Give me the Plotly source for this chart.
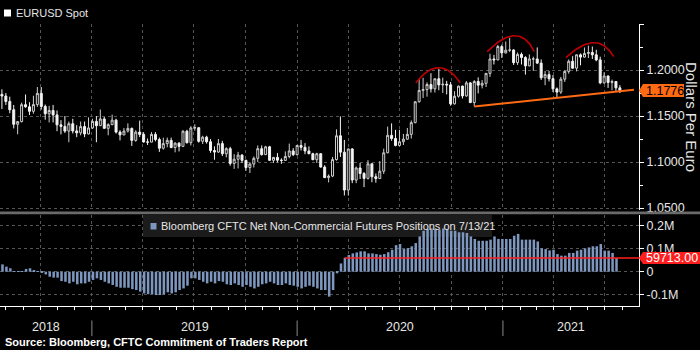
import numpy as np
import pandas as pd
import plotly.graph_objects as go

# ---------------------------------------------------------------------------
# Weekly EURUSD spot candles, week of 16 Jul 2018 through week of 19 Jul 2021
# ---------------------------------------------------------------------------
eur_open = [
    1.1735, 1.1717, 1.1658, 1.1568, 1.1410, 1.1439, 1.1623, 1.1600, 1.1551, 1.1624,
    1.1746, 1.1604, 1.1524, 1.1560, 1.1512, 1.1404, 1.1387, 1.1336, 1.1416, 1.1338,
    1.1317, 1.1385, 1.1305, 1.1370, 1.1441,
    1.1395, 1.1468, 1.1366, 1.1406, 1.1455, 1.1325, 1.1295, 1.1336, 1.1365, 1.1235,
    1.1325, 1.1300, 1.1218, 1.1216, 1.1300, 1.1245, 1.1150, 1.1200, 1.1235, 1.1157,
    1.1205, 1.1170, 1.1335, 1.1210, 1.1370, 1.1373, 1.1225, 1.1270, 1.1220, 1.1125,
    1.1108, 1.1200, 1.1090, 1.1145, 1.0985, 1.1030, 1.1075, 1.1018, 1.0940, 1.0978,
    1.1040, 1.1145, 1.1080, 1.1165, 1.1018, 1.1050, 1.1020, 1.1017, 1.1060, 1.1120,
    1.1080, 1.1180,
    1.1160, 1.1120, 1.1090, 1.1025, 1.1090, 1.0945, 1.0830, 1.0847, 1.1026, 1.1285,
    1.1107, 1.0695, 1.1142, 1.0804, 1.0935, 1.0875, 1.0822, 1.0980, 1.0840, 1.0820,
    1.0900, 1.1100, 1.1290, 1.1255, 1.1180, 1.1220, 1.1248, 1.1300, 1.1428, 1.1655,
    1.1778, 1.1787, 1.1842, 1.1795, 1.1905, 1.1838, 1.1845, 1.1838, 1.1632, 1.1715,
    1.1825, 1.1718, 1.1860, 1.1646, 1.1875, 1.1835, 1.1855, 1.1963, 1.2120, 1.2110,
    1.2255, 1.2185,
    1.2215, 1.2218, 1.2080, 1.2170, 1.2136, 1.2045, 1.2120, 1.2120, 1.2075, 1.1915,
    1.1950, 1.1905, 1.1795, 1.1760, 1.1900, 1.1985, 1.2095, 1.2020, 1.2165, 1.2140,
    1.2180, 1.2190, 1.2165, 1.2110, 1.1860, 1.1935, 1.1865, 1.1875, 1.1806,
]
eur_high = [
    1.1790, 1.1750, 1.1710, 1.1620, 1.1445, 1.1645, 1.1734, 1.1650, 1.1720, 1.1815,
    1.1815, 1.1625, 1.1610, 1.1620, 1.1560, 1.1455, 1.1500, 1.1440, 1.1470, 1.1400,
    1.1440, 1.1440, 1.1485, 1.1470, 1.1500,
    1.1570, 1.1490, 1.1420, 1.1515, 1.1470, 1.1345, 1.1370, 1.1420, 1.1375, 1.1345,
    1.1450, 1.1325, 1.1255, 1.1325, 1.1325, 1.1265, 1.1265, 1.1265, 1.1265, 1.1215,
    1.1215, 1.1345, 1.1350, 1.1390, 1.1410, 1.1375, 1.1285, 1.1285, 1.1250, 1.1170,
    1.1250, 1.1230, 1.1160, 1.1165, 1.1085, 1.1110, 1.1085, 1.1025, 1.0998, 1.1060,
    1.1180, 1.1180, 1.1175, 1.1175, 1.1055, 1.1097, 1.1040, 1.1115, 1.1200, 1.1150,
    1.1185, 1.1240,
    1.1205, 1.1170, 1.1100, 1.1100, 1.1095, 1.0965, 1.0865, 1.1055, 1.1355, 1.1495,
    1.1240, 1.1145, 1.1150, 1.0950, 1.0990, 1.0890, 1.1020, 1.0985, 1.0875, 1.1010,
    1.1145, 1.1385, 1.1420, 1.1350, 1.1350, 1.1305, 1.1370, 1.1452, 1.1660, 1.1905,
    1.1915, 1.1865, 1.1965, 1.1905, 1.2011, 1.1917, 1.1882, 1.1870, 1.1770, 1.1830,
    1.1830, 1.1880, 1.1870, 1.1890, 1.1920, 1.1890, 1.1965, 1.2177, 1.2165, 1.2273,
    1.2275, 1.2310,
    1.2349, 1.2225, 1.2190, 1.2190, 1.2150, 1.2170, 1.2145, 1.2245, 1.2115, 1.1990,
    1.1990, 1.1945, 1.1810, 1.1925, 1.1995, 1.2115, 1.2150, 1.2170, 1.2180, 1.2245,
    1.2265, 1.2255, 1.2220, 1.2145, 1.1975, 1.1940, 1.1895, 1.1880, 1.1835,
]
eur_low = [
    1.1575, 1.1620, 1.1530, 1.1365, 1.1301, 1.1430, 1.1590, 1.1510, 1.1525, 1.1600,
    1.1570, 1.1460, 1.1430, 1.1430, 1.1335, 1.1300, 1.1315, 1.1215, 1.1310, 1.1270,
    1.1290, 1.1270, 1.1300, 1.1360, 1.1215,
    1.1390, 1.1360, 1.1290, 1.1400, 1.1310, 1.1235, 1.1290, 1.1320, 1.1175, 1.1220,
    1.1270, 1.1210, 1.1185, 1.1215, 1.1225, 1.1110, 1.1135, 1.1160, 1.1150, 1.1105,
    1.1115, 1.1165, 1.1200, 1.1180, 1.1340, 1.1210, 1.1195, 1.1200, 1.1100, 1.1025,
    1.1100, 1.1065, 1.1050, 1.0960, 1.0925, 1.0930, 1.0990, 1.0905, 1.0880, 1.0940,
    1.1000, 1.1070, 1.1075, 1.1015, 1.0990, 1.0995, 1.0980, 1.1015, 1.1040, 1.1065,
    1.1070, 1.1125,
    1.1085, 1.1085, 1.1020, 1.0990, 1.0940, 1.0830, 1.0778, 1.0835, 1.1015, 1.1055,
    1.0636, 1.0635, 1.0770, 1.0770, 1.0815, 1.0727, 1.0810, 1.0780, 1.0775, 1.0815,
    1.0870, 1.1095, 1.1230, 1.1170, 1.1170, 1.1185, 1.1245, 1.1255, 1.1420, 1.1645,
    1.1695, 1.1710, 1.1755, 1.1755, 1.1780, 1.1750, 1.1735, 1.1612, 1.1625, 1.1700,
    1.1690, 1.1710, 1.1640, 1.1603, 1.1745, 1.1800, 1.1815, 1.1925, 1.2060, 1.2105,
    1.2130, 1.2180,
    1.2195, 1.2055, 1.2055, 1.2060, 1.1950, 1.2040, 1.1990, 1.2065, 1.1892, 1.1835,
    1.1875, 1.1760, 1.1704, 1.1740, 1.1870, 1.1960, 1.2015, 1.1985, 1.2050, 1.2135,
    1.2130, 1.2120, 1.2095, 1.1845, 1.1850, 1.1805, 1.1780, 1.1772, 1.1750,
]
eur_close = [
    1.1717, 1.1658, 1.1568, 1.1410, 1.1439, 1.1623, 1.1600, 1.1551, 1.1624, 1.1746,
    1.1604, 1.1524, 1.1560, 1.1512, 1.1404, 1.1387, 1.1336, 1.1416, 1.1338, 1.1317,
    1.1385, 1.1305, 1.1370, 1.1441, 1.1395,
    1.1468, 1.1366, 1.1406, 1.1455, 1.1325, 1.1295, 1.1336, 1.1365, 1.1235, 1.1325,
    1.1300, 1.1218, 1.1216, 1.1300, 1.1245, 1.1150, 1.1200, 1.1235, 1.1157, 1.1205,
    1.1170, 1.1335, 1.1210, 1.1370, 1.1373, 1.1225, 1.1270, 1.1220, 1.1125, 1.1108,
    1.1200, 1.1090, 1.1145, 1.0985, 1.1030, 1.1075, 1.1018, 1.0940, 1.0978, 1.1040,
    1.1145, 1.1080, 1.1165, 1.1018, 1.1050, 1.1020, 1.1017, 1.1060, 1.1120, 1.1080,
    1.1180, 1.1160,
    1.1120, 1.1090, 1.1025, 1.1090, 1.0945, 1.0830, 1.0847, 1.1026, 1.1285, 1.1107,
    1.0695, 1.1142, 1.0804, 1.0935, 1.0875, 1.0822, 1.0980, 1.0840, 1.0820, 1.0900,
    1.1100, 1.1290, 1.1255, 1.1180, 1.1220, 1.1248, 1.1300, 1.1428, 1.1655, 1.1778,
    1.1787, 1.1842, 1.1795, 1.1905, 1.1838, 1.1845, 1.1838, 1.1632, 1.1715, 1.1825,
    1.1718, 1.1860, 1.1646, 1.1875, 1.1835, 1.1855, 1.1963, 1.2120, 1.2110, 1.2255,
    1.2185, 1.2215,
    1.2218, 1.2080, 1.2170, 1.2136, 1.2045, 1.2120, 1.2120, 1.2075, 1.1915, 1.1950,
    1.1905, 1.1795, 1.1760, 1.1900, 1.1985, 1.2095, 1.2020, 1.2165, 1.2140, 1.2180,
    1.2190, 1.2165, 1.2110, 1.1860, 1.1935, 1.1865, 1.1875, 1.1806, 1.1776,
]

# CFTC net non-commercial EUR futures positions (contracts), weekly to 13 Jul 2021
cftc_net = [
    32000, 22000, 15000, 2000, 1000, 500, 12000, 15000, 7000, 3000,
    -3000, -12000, -22000, -26000, -26000, -41000, -44000, -51000, -44000, -55000,
    -51000, -51000, -44000, -36000, -29000, -36000, -44000, -51000, -58000, -66000,
    -70000, -70000, -70000, -76000, -80000, -87000, -95000, -98000, -98000, -102000,
    -102000, -99000, -90000, -95000, -90000, -80000, -73000, -61000, -29000, -29000,
    -36000, -44000, -51000, -44000, -51000, -41000, -44000, -55000, -58000, -51000,
    -58000, -66000, -58000, -66000, -73000, -66000, -55000, -51000, -44000, -51000,
    -58000, -58000, -51000, -58000, -61000, -66000, -73000, -66000, -61000, -66000,
    -73000, -80000, -80000, -109000, -80000, -7000, 36000, 61000, 73000, 80000,
    84000, 89000, 89000, 80000, 80000, 77000, 74000, 77000, 85000, 96000,
    116000, 121000, 99000, 103000, 111000, 125000, 154000, 179000, 186000, 189000,
    186000, 184000, 189000, 186000, 179000, 179000, 172000, 172000, 169000, 154000,
    143000, 135000, 135000, 135000, 140000, 154000, 143000, 143000, 143000, 143000,
    157000, 165000, 140000, 140000, 140000, 140000, 132000, 102000, 99000, 93000,
    96000, 77000, 70000, 70000, 82000, 82000, 92000, 96000, 102000, 106000,
    111000, 111000, 121000, 92000, 92000, 82000, 59713,
]

# Axis labels
price_ticks = [1.05, 1.10, 1.15, 1.20, 1.25]
price_tick_text = ["1.0500", "1.1000", "1.1500", "1.2000", ""]
price_minor_ticks = [1.075, 1.125, 1.175, 1.225]
pos_ticks = [-100000, 0, 100000, 200000]
pos_tick_text = ["-0.1M", "0", "0.1M", "0.2M"]
year_labels = ["2018", "2019", "2020", "2021"]

# Chart drawings: three rounded tops and the rising neckline
arc_start = ["2020-07-30", "2020-12-04", "2021-04-23"]
arc_apex = ["2020-09-09", "2021-01-22", "2021-06-11"]
arc_end = ["2020-10-17", "2021-02-26", "2021-07-17"]
arc_start_val = [1.1862, 1.2199, 1.2134]
arc_apex_val = [1.2025, 1.2373, 1.2297]
arc_end_val = [1.1862, 1.2199, 1.2145]
neck_dates = ["2020-11-11", "2021-08-22"]
neck_vals = [1.1603, 1.1786]

# ---------------------------------------------------------------------------
candle_dates = pd.date_range("2018-07-25", periods=len(eur_close), freq="7D")
cftc_dates = pd.date_range("2018-07-26", periods=len(cftc_net), freq="7D")

X_RANGE = [pd.Timestamp("2018-07-21 14:00"), pd.Timestamp("2021-08-31")]
PRICE_RANGE = [1.04783, 1.25]
POS_RANGE = [-149800, 247600]
TOP_DOMAIN = [0.34043, 1.0]
BOTTOM_DOMAIN = [0.0, 0.32270]

W, H = 700, 350
M_L, M_R, M_T, M_B = 0, 61, 24, 44
PLOT_W = W - M_L - M_R
PLOT_H = H - M_T - M_B

FONT = "Liberation Sans, Arial, sans-serif"
TXT = "#e6e6e6"
GRID = "#555555"
ORANGE = "#ff6a13"
RED = "#ff1e1e"
BAR_BLUE = "#7d97bf"


def px_x(px):
    return (px - M_L) / PLOT_W


def px_y(px):
    return (H - M_B - px) / PLOT_H


def px_to_date(px):
    return X_RANGE[0] + (X_RANGE[1] - X_RANGE[0]) * px_x(px)


def date_to_paper(d):
    return (pd.Timestamp(d) - X_RANGE[0]) / (X_RANGE[1] - X_RANGE[0])


def px_to_pos(px):
    # pixel row inside the lower panel -> positions value
    frac = (px_y(px) - BOTTOM_DOMAIN[0]) / (BOTTOM_DOMAIN[1] - BOTTOM_DOMAIN[0])
    return POS_RANGE[0] + frac * (POS_RANGE[1] - POS_RANGE[0])


def value_to_paper(v, rng, dom):
    return dom[0] + (v - rng[0]) / (rng[1] - rng[0]) * (dom[1] - dom[0])


fig = go.Figure()

fig.add_trace(go.Candlestick(
    x=candle_dates, open=eur_open, high=eur_high, low=eur_low, close=eur_close,
    xaxis="x", yaxis="y", whiskerwidth=0, hoverinfo="skip",
    increasing=dict(fillcolor="#000000", line=dict(color="#cfcfcf", width=1)),
    decreasing=dict(fillcolor="#f4f4f4", line=dict(color="#f4f4f4", width=1)),
))

# rounded tops
for s, a, e, sv, av, ev in zip(arc_start, arc_apex, arc_end, arc_start_val, arc_apex_val, arc_end_val):
    t = np.linspace(0, 1, 40)
    xs = np.array([pd.Timestamp(s).value, pd.Timestamp(a).value, pd.Timestamp(e).value], dtype=float)
    ys = np.array([sv, av, ev])
    cx = 2 * xs[1] - (xs[0] + xs[2]) / 2
    cy = 2 * ys[1] - (ys[0] + ys[2]) / 2
    bx = (1 - t) ** 2 * xs[0] + 2 * t * (1 - t) * cx + t ** 2 * xs[2]
    by = (1 - t) ** 2 * ys[0] + 2 * t * (1 - t) * cy + t ** 2 * ys[2]
    fig.add_trace(go.Scatter(
        x=pd.to_datetime(bx.astype("int64")), y=by, mode="lines",
        line=dict(color="#c00000", width=1.6), hoverinfo="skip", xaxis="x", yaxis="y",
    ))

fig.add_trace(go.Scatter(
    x=pd.to_datetime(neck_dates), y=neck_vals, mode="lines",
    line=dict(color=ORANGE, width=2), hoverinfo="skip", xaxis="x", yaxis="y",
))

fig.add_trace(go.Bar(
    x=cftc_dates, y=cftc_net, xaxis="x2", yaxis="y2",
    marker=dict(color=BAR_BLUE, line=dict(width=0)),
    width=4.5 * 86400000, hoverinfo="skip",
))

grid_x = dict(
    type="date", showgrid=True, gridcolor=GRID, griddash="dot", gridwidth=1,
    dtick="M3", tick0="2018-01-01", zeroline=False,
)

fig.update_layout(
    width=W, height=H,
    margin=dict(l=M_L, r=M_R, t=M_T, b=M_B, pad=0),
    paper_bgcolor="#000000", plot_bgcolor="#000000",
    showlegend=False, hovermode=False, boxgap=0.28,
    font=dict(family=FONT, color=TXT, size=12.5),
    xaxis=dict(
        **grid_x, domain=[0, 1], anchor="y", range=X_RANGE,
        showticklabels=False, ticks="", showline=False,
        rangeslider=dict(visible=False),
    ),
    xaxis2=dict(
        **grid_x, domain=[0, 1], anchor="y2", matches="x",
        showticklabels=False, ticks="outside", ticklen=3, tickcolor="#ffffff",
        showline=True, linecolor="#ffffff", linewidth=1,
        minor=dict(dtick="M1", ticks="outside", ticklen=3, tickcolor="#ffffff", showgrid=False),
    ),
    yaxis=dict(
        domain=TOP_DOMAIN, anchor="x", side="right", range=PRICE_RANGE,
        tickmode="array", tickvals=price_ticks, ticktext=price_tick_text,
        showgrid=True, gridcolor=GRID, griddash="dot", zeroline=False,
        ticks="outside", ticklen=4, tickcolor="#ffffff",
        showline=True, linecolor="#ffffff", linewidth=1,
        tickfont=dict(size=12.5, color=TXT),
        minor=dict(tickmode="array", tickvals=price_minor_ticks, ticks="outside",
                   ticklen=3, tickcolor="#ffffff", showgrid=False),
    ),
    yaxis2=dict(
        domain=BOTTOM_DOMAIN, anchor="x2", side="right", range=POS_RANGE,
        tickmode="array", tickvals=pos_ticks, ticktext=pos_tick_text,
        showgrid=True, gridcolor=GRID, griddash="dot", zeroline=False,
        ticks="outside", ticklen=4, tickcolor="#ffffff",
        showline=True, linecolor="#ffffff", linewidth=1,
        tickfont=dict(size=12.5, color=TXT),
    ),
)

shapes = []
annotations = []

# CFTC legend panel: over the gridlines, under the bars
shapes.append(dict(type="rect", xref="x2", yref="y2", layer="between",
                   x0=px_to_date(143), x1=px_to_date(492),
                   y0=px_to_pos(237), y1=POS_RANGE[1],
                   fillcolor="#1b1b1b", line=dict(width=0)))

# panel separator
shapes.append(dict(type="rect", xref="paper", yref="paper", layer="above",
                   x0=0, x1=px_x(W), y0=px_y(214.2), y1=px_y(211.4),
                   fillcolor="#6a6a6a", line=dict(width=0)))

# latest CFTC level across the bottom panel
last_pos = cftc_net[-1]
start_idx = max(i for i in range(len(cftc_net)) if cftc_net[i] <= 0) + 1
while cftc_net[start_idx] < last_pos:
    start_idx += 1
shapes.append(dict(type="line", xref="x2", yref="y2", layer="above",
                   x0=cftc_dates[start_idx], x1=X_RANGE[1], y0=last_pos, y1=last_pos,
                   line=dict(color=RED, width=1.5)))

# value tags on the right axis
last_px = eur_close[-1]
for val, rng, dom, color, width, half, text, tcolor in [
    (last_px, PRICE_RANGE, TOP_DOMAIN, ORANGE, 45, 6.5, f"{last_px:.4f}", "#000000"),
    (last_pos, POS_RANGE, BOTTOM_DOMAIN, RED, 62, 6, f"{last_pos:.2f}", "#ffffff"),
]:
    py = value_to_paper(val, rng, dom)
    shapes.append(dict(type="path", xref="paper", yref="paper", layer="above",
                       xsizemode="pixel", ysizemode="pixel", xanchor=1, yanchor=py,
                       path=f"M 0,0 L 4,{half} L {width},{half} L {width},-{half} L 4,-{half} Z",
                       fillcolor=color, line=dict(width=0)))
    annotations.append(dict(xref="paper", yref="paper", x=1, y=py, xshift=5,
                            xanchor="left", yanchor="middle", showarrow=False,
                            text=text, font=dict(size=12.5, color=tcolor)))

# price axis title
annotations.append(dict(xref="paper", yref="paper", x=px_x(692), y=px_y(117),
                        text="Dollars Per Euro", textangle=90, showarrow=False,
                        xanchor="center", yanchor="middle",
                        font=dict(size=15, color=TXT)))

# EURUSD legend
shapes.append(dict(type="rect", xref="paper", yref="paper", layer="above",
                   x0=px_x(4), x1=px_x(11), y0=px_y(16.5), y1=px_y(9.5),
                   fillcolor="#ffffff", line=dict(width=0)))
annotations.append(dict(xref="paper", yref="paper", x=px_x(14), y=px_y(13),
                        xanchor="left", yanchor="middle", showarrow=False,
                        text="EURUSD Spot", font=dict(size=11, color=TXT)))

# CFTC legend swatch and text
shapes.append(dict(type="rect", xref="paper", yref="paper", layer="above",
                   x0=px_x(150.5), x1=px_x(156.5), y0=px_y(229.5), y1=px_y(223),
                   fillcolor=BAR_BLUE, line=dict(width=0)))
annotations.append(dict(xref="paper", yref="paper", x=px_x(159), y=px_y(226),
                        xanchor="left", yanchor="middle", showarrow=False,
                        text="Bloomberg CFTC Net Non-Commercial Futures Positions on 7/13/21",
                        font=dict(size=11, color=TXT)))

# year labels with separators between years
for k, yr in enumerate(year_labels):
    lo = max(pd.Timestamp(f"{yr}-01-01"), X_RANGE[0])
    hi = min(pd.Timestamp(f"{int(yr) + 1}-01-01"), X_RANGE[1])
    mid = lo + (hi - lo) / 2
    annotations.append(dict(xref="x2", yref="paper", x=mid, y=px_y(327),
                            xanchor="center", yanchor="middle", showarrow=False,
                            text=yr, font=dict(size=12.5, color=TXT)))
    if k > 0:
        xb = date_to_paper(f"{yr}-01-01")
        shapes.append(dict(type="line", xref="paper", yref="paper", layer="above",
                           x0=xb, x1=xb, y0=px_y(320.5), y1=px_y(336),
                           line=dict(color="#8a8a8a", width=1)))

annotations.append(dict(xref="paper", yref="paper", x=px_x(3), y=px_y(342),
                        xanchor="left", yanchor="middle", showarrow=False,
                        text="<b>Source: Bloomberg, CFTC Commitment of Traders Report</b>",
                        font=dict(size=11, color="#ffffff")))

fig.update_layout(shapes=shapes, annotations=annotations)

fig.write_html("out.html")
